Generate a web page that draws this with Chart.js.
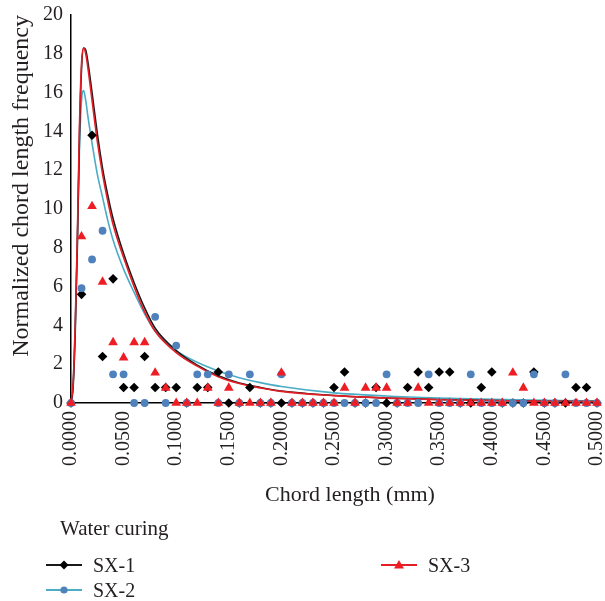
<!DOCTYPE html>
<html>
<head>
<meta charset="utf-8">
<script src="https://cdn.jsdelivr.net/npm/chart.js@4.4.0/dist/chart.umd.min.js"></script>
<style>
    html, body { margin: 0; padding: 0; background: #fff; }
    #wrap { position: relative; width: 605px; height: 601px; }
    #legend { position: absolute; left: 0; top: 0; width: 605px; height: 601px; pointer-events: none;
              font-family: "Liberation Serif", "DejaVu Serif", serif; font-size: 20px; color: #231f20; }
    #legend div { position: absolute; white-space: nowrap; line-height: 26px; height: 26px; }
    #legend svg { vertical-align: middle; margin-right: 11px; }
    #legend span { vertical-align: middle; }
</style>
</head>
<body>
<div id="wrap">
    <canvas id="myChart" width="605" height="601"></canvas>
    <div id="legend"></div>
</div>
<script>
// ----------- Data ----------- //
const LEGEND_TITLE = 'Water curing';
const X_TITLE = 'Chord length (mm)';
const Y_TITLE = 'Normalized chord length frequency';

const seriesNames = ['SX-1', 'SX-2', 'SX-3'];

// measured points, one every 0.01 mm
const chordLength = [
    0.00, 0.01, 0.02, 0.03, 0.04, 0.05, 0.06, 0.07, 0.08, 0.09,
    0.10, 0.11, 0.12, 0.13, 0.14, 0.15, 0.16, 0.17, 0.18, 0.19,
    0.20, 0.21, 0.22, 0.23, 0.24, 0.25, 0.26, 0.27, 0.28, 0.29,
    0.30, 0.31, 0.32, 0.33, 0.34, 0.35, 0.36, 0.37, 0.38, 0.39,
    0.40, 0.41, 0.42, 0.43, 0.44, 0.45, 0.46, 0.47, 0.48, 0.49, 0.50
];
const sx1 = [
    0, 5.6, 13.8, 2.4, 6.4, 0.8, 0.8, 2.4, 0.8, 0.8,
    0.8, 0, 0.8, 0.8, 1.6, 0, 0, 0.8, 0, 0,
    0, 0, 0, 0, 0, 0.8, 1.6, 0, 0, 0.8,
    0, 0, 0.8, 1.6, 0.8, 1.6, 1.6, 0, 0, 0.8,
    1.6, 0, 0, 0, 1.6, 0, 0, 0, 0.8, 0.8, 0
];
const sx2 = [
    0, 5.92, 7.40, 8.88, 1.48, 1.48, 0, 0, 4.44, 0,
    2.96, 0, 1.48, 1.48, 0, 1.48, 0, 1.48, 0, 0,
    1.48, 0, 0, 0, 0, 0, 0, 0, 0, 0,
    1.48, 0, 0, 0, 1.48, 0, 0, 0, 1.48, 0,
    0, 0, 0, 0, 1.48, 0, 0, 1.48, 0, 0, 0
];
const sx3 = [
    0, 8.58, 10.14, 6.24, 3.12, 2.34, 3.12, 3.12, 1.56, 0.78,
    0, 0, 0, 0.78, 0, 0.78, 0, 0, 0, 0,
    1.56, 0, 0, 0, 0, 0, 0.78, 0, 0.78, 0.78,
    0.78, 0, 0, 0.78, 0, 0, 0, 0, 0, 0,
    0, 0, 1.56, 0.78, 0, 0, 0, 0, 0, 0, 0
];

// fitted curves
const curveX = [0, 0.002, 0.004, 0.006, 0.008, 0.010, 0.012, 0.014, 0.016, 0.020,
                0.025, 0.030, 0.035, 0.040, 0.050, 0.060, 0.070, 0.080, 0.100, 0.120,
                0.140, 0.160, 0.180, 0.200, 0.250, 0.300, 0.350, 0.400, 0.450, 0.500];
const curveSX1 = [0, 0.8, 3.6, 8.0, 13.6, 17.2, 18.3, 18.2, 17.6, 16.0,
                  13.9, 12.1, 10.7, 9.5, 7.7, 6.2, 4.9, 3.85, 2.7, 1.95,
                  1.4, 1.03, 0.8, 0.62, 0.39, 0.26, 0.18, 0.13, 0.09, 0.07];
const curveSX2 = [0, 1.0, 4.0, 8.3, 13.0, 15.6, 16.1, 15.6, 14.8, 13.4,
                  11.8, 10.6, 9.4, 8.4, 6.9, 5.7, 4.6, 3.7, 2.7, 2.1,
                  1.65, 1.3, 1.05, 0.85, 0.52, 0.36, 0.26, 0.19, 0.14, 0.11];
const curveSX3 = [0, 1.0, 4.0, 8.5, 14.2, 17.5, 18.3, 18.0, 17.3, 15.6,
                  13.5, 11.8, 10.4, 9.2, 7.5, 6.0, 4.7, 3.7, 2.6, 1.9,
                  1.35, 1.0, 0.78, 0.6, 0.38, 0.25, 0.17, 0.12, 0.09, 0.07];

const xTicks = [0, 0.05, 0.1, 0.15, 0.2, 0.25, 0.3, 0.35, 0.4, 0.45, 0.5];

// ----------- Styles ----------- //
const FONT = '"Liberation Serif", "DejaVu Serif", serif';
const TEXT = '#231f20';
const markerColors = ['#000000', '#4f81bd', '#ee1d24'];
const lineColors = ['#1a1a1a', '#4bacc6', '#e31e25'];
const markerStyles = ['rectRot', 'circle', 'triangle'];
const markerRadius = [4.8, 3.9, 5.6];

const toPoints = (xs, ys) => xs.map((x, i) => ({x: x, y: ys[i]}));

const pointSets = [sx1, sx2, sx3];
const curveSets = [curveSX1, curveSX2, curveSX3];

let datasets = [];
// markers on top: SX-3, then SX-2, then SX-1
pointSets.forEach((ys, i) => {
    datasets.push({
        label: seriesNames[i],
        data: toPoints(chordLength, ys),
        showLine: false,
        pointStyle: markerStyles[i],
        pointRadius: markerRadius[i],
        pointBackgroundColor: markerColors[i],
        pointBorderColor: markerColors[i],
        pointBorderWidth: 0,
        clip: false,
        order: 2 - i
    });
});
const curveOrder = [4, 5, 3];
curveSets.forEach((ys, i) => {
    datasets.push({
        label: seriesNames[i] + ' fit',
        data: toPoints(curveX, ys),
        showLine: true,
        borderColor: lineColors[i],
        borderWidth: 1.6,
        pointRadius: 0,
        cubicInterpolationMode: 'monotone',
        order: curveOrder[i]
    });
});

// no extra room for half labels at the ends of the axes
const noEndPadding = scale => {
    scale.paddingLeft = 0;
    scale.paddingRight = 0;
    scale.paddingTop = 0;
    scale.paddingBottom = 0;
};

// ----------- Chart ----------- //
const ctx = document.getElementById('myChart');
const chart = new Chart(ctx, {
    type: 'scatter',
    data: { datasets: datasets },
    options: {
        responsive: false,
        animation: false,
        devicePixelRatio: 1,
        layout: { padding: { top: 15, right: 8, left: 0, bottom: 0 } },
        plugins: {
            legend: { display: false },
            tooltip: { enabled: false }
        },
        scales: {
            x: {
                type: 'linear',
                min: 0,
                max: 0.5,
                afterBuildTicks: scale => { scale.ticks = xTicks.map(v => ({value: v})); },
                afterFit: scale => { scale.height = 198; noEndPadding(scale); },
                grid: { display: false, drawTicks: false },
                border: { display: true, color: '#000', width: 1.5 },
                ticks: {
                    autoSkip: false,
                    minRotation: 90,
                    maxRotation: 90,
                    padding: 8,
                    color: TEXT,
                    font: { family: FONT, size: 20 },
                    callback: v => Number(v).toFixed(4)
                },
                // the x title sits a little right of centre, drawn with the legend below
                title: { display: false }
            },
            y: {
                min: 0,
                max: 20,
                afterFit: scale => { scale.width = 71; noEndPadding(scale); },
                grid: { display: false, drawTicks: false },
                border: { display: true, color: '#000', width: 1.5 },
                ticks: {
                    stepSize: 2,
                    padding: 8,
                    color: TEXT,
                    font: { family: FONT, size: 20 }
                },
                title: {
                    display: true,
                    text: Y_TITLE,
                    align: 'end',
                    color: TEXT,
                    font: { family: FONT, size: 24 },
                    padding: { top: 7, bottom: 0 }
                }
            }
        }
    }
});

// ----------- Legend (two columns, like the original) ----------- //
const legend = document.getElementById('legend');
const addText = (x, y, html, size, centred) => {
    let d = document.createElement('div');
    d.style.left = x + 'px';
    d.style.top = (y - 13) + 'px';
    d.style.fontSize = size + 'px';
    if (centred) d.style.transform = 'translateX(-50%)';
    d.innerHTML = html;
    legend.appendChild(d);
};
const markerSvg = i => {
    const c = markerColors[i];
    if (markerStyles[i] === 'rectRot') return `<path d="M18 5.5 L22.5 10 L18 14.5 L13.5 10 Z" fill="${c}"/>`;
    if (markerStyles[i] === 'circle') return `<circle cx="18" cy="10" r="3.6" fill="${c}"/>`;
    return `<path d="M18 5 L23 13.5 L13 13.5 Z" fill="${c}"/>`;
};
const legendSlots = [[46, 563], [46, 588], [381, 563]];
seriesNames.forEach((name, i) => {
    const [x, y] = legendSlots[i];
    const svg = `<svg width="36" height="20"><line x1="0" y1="10" x2="36" y2="10" stroke="${lineColors[i]}" stroke-width="2"/>${markerSvg(i)}</svg>`;
    addText(x, y, svg + `<span>${name}</span>`, 20);
});
addText(60, 528, LEGEND_TITLE, 21);
addText(350, 494, X_TITLE, 22, true);
</script>
</body>
</html>
